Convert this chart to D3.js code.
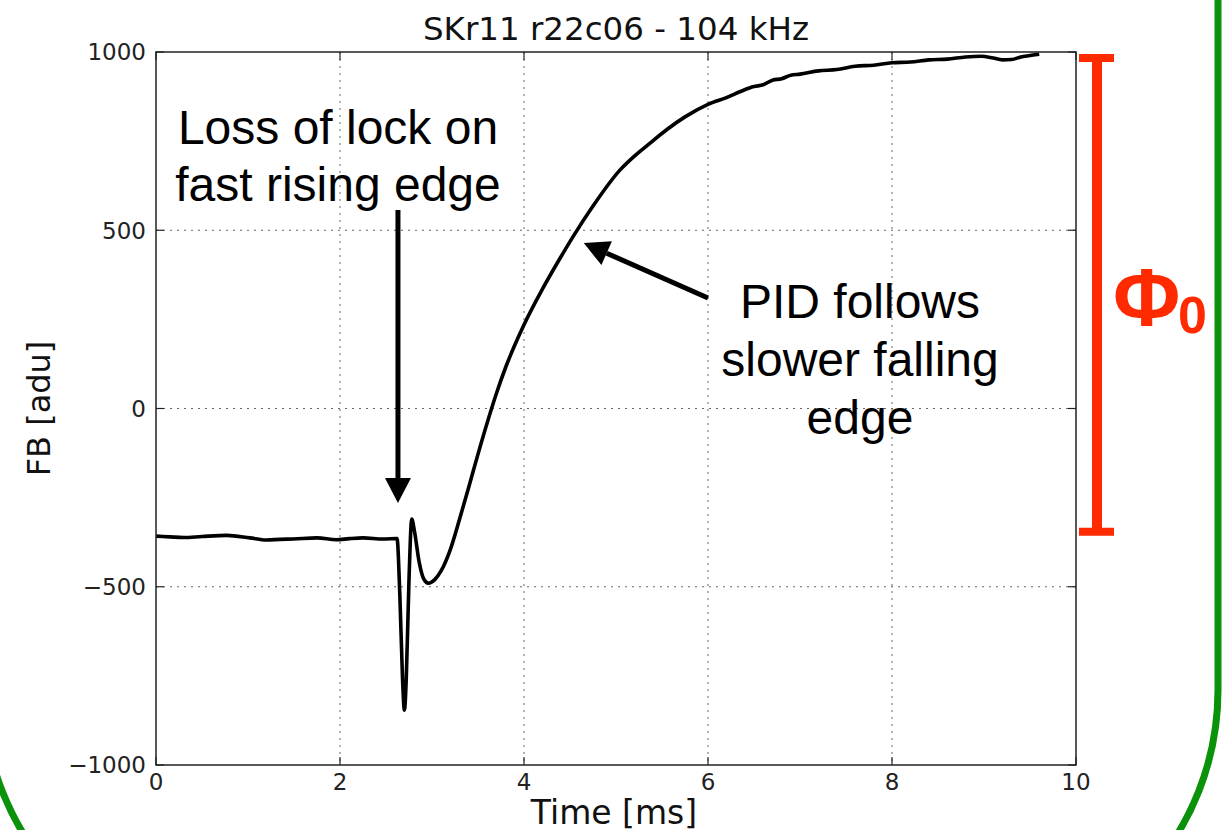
<!DOCTYPE html>
<html lang="en">
<head>
<meta charset="utf-8">
<title>SKr11 r22c06 - 104 kHz</title>
<script src="https://d3js.org/d3.v7.min.js"></script>
<style>
  body { margin: 0; background: #fff; }
  svg { display: block; }
</style>
</head>
<body>
<script>
// feedback trace: time in ms, FB in adu
var timeMs = [0, 0.15, 0.3, 0.5, 0.77, 1.02, 1.2, 1.35, 1.49, 1.75, 1.96, 2.1, 2.25, 2.47, 2.62,
  2.65, 2.68, 2.70, 2.72, 2.75, 2.78, 2.81, 2.86, 2.91, 2.96, 3.03, 3.1, 3.2, 3.3, 3.4, 3.5,
  3.6, 3.7, 3.8, 3.9, 4.0, 4.2, 4.4, 4.54, 4.75, 5.04, 5.2, 5.35, 5.55, 5.75, 6.0, 6.2, 6.36,
  6.5, 6.6, 6.7, 6.8, 6.9, 7.0, 7.2, 7.4, 7.6, 7.8, 8.0, 8.2, 8.4, 8.6, 8.8, 8.97, 9.1, 9.2,
  9.3, 9.4, 9.5, 9.6];
var fbAdu = [-358, -360, -362, -359, -356, -363, -369, -367, -366, -363, -368, -365, -363, -366, -365,
  -520, -760, -846, -760, -480, -310, -345, -430, -478, -490, -480, -455, -395, -310, -220, -128,
  -40, 42, 115, 178, 235, 335, 425, 485, 568, 668, 708, 740, 782, 818, 853, 872, 890,
  903, 908, 921, 925, 935, 938, 947, 951, 960, 963, 970, 972, 978, 980, 986, 988, 983, 978,
  979, 986, 990, 994];

var xTicks = [0, 2, 4, 6, 8, 10];
var yTicks = [-1000, -500, 0, 500, 1000];
var xGrid = [2, 4, 6, 8];
var yGrid = [-500, 0, 500];

var titleText = 'SKr11 r22c06 - 104 kHz';
var xLabel = 'Time [ms]';
var yLabel = 'FB [adu]';
var leftNote = ['Loss of lock on', 'fast rising edge'];
var rightNote = ['PID follows', 'slower falling', 'edge'];

// arrows in data units: [tailTime, tailFB, tipTime, tipFB]
var arrowLock = [2.63, 557, 2.63, -265];
var arrowPid = [6.0, 310, 4.65, 464];
// one flux quantum, drawn as the red bar on the right (adu)
var phi0Span = [983, -346];

var W = 1222, H = 830;
var plotL = 156, plotT = 52, pw = 920, ph = 713;

var svg = d3.select('body').append('svg')
  .attr('width', W)
  .attr('height', H);

var x = d3.scaleLinear().domain([0, 10]).range([plotL, plotL + pw]);
var y = d3.scaleLinear().domain([-1000, 1000]).range([plotT + ph, plotT]);

// green slide frame, only the bottom corners are visible
svg.append('rect')
  .attr('x', -17).attr('y', -400)
  .attr('width', 1235).attr('height', 1366)
  .attr('rx', 276).attr('ry', 276)
  .attr('fill', 'none')
  .attr('stroke', '#0a920a')
  .attr('stroke-width', 7);

// dotted grid
svg.selectAll('.gx').data(xGrid).enter().append('line')
  .attr('x1', d => x(d)).attr('x2', d => x(d))
  .attr('y1', plotT).attr('y2', plotT + ph)
  .attr('stroke', '#666').attr('stroke-width', 1)
  .attr('stroke-dasharray', '2,5');
svg.selectAll('.gy').data(yGrid).enter().append('line')
  .attr('x1', plotL).attr('x2', plotL + pw)
  .attr('y1', d => y(d)).attr('y2', d => y(d))
  .attr('stroke', '#666').attr('stroke-width', 1)
  .attr('stroke-dasharray', '2,5');

// ticks pointing inward on all four sides
var tk = 8;
xTicks.forEach(function(t) {
  svg.append('line').attr('x1', x(t)).attr('x2', x(t)).attr('y1', plotT + ph).attr('y2', plotT + ph - tk)
    .attr('stroke', '#222').attr('stroke-width', 1.2);
  svg.append('line').attr('x1', x(t)).attr('x2', x(t)).attr('y1', plotT).attr('y2', plotT + tk)
    .attr('stroke', '#222').attr('stroke-width', 1.2);
});
yTicks.forEach(function(v) {
  svg.append('line').attr('x1', plotL).attr('x2', plotL + tk).attr('y1', y(v)).attr('y2', y(v))
    .attr('stroke', '#222').attr('stroke-width', 1.2);
  svg.append('line').attr('x1', plotL + pw).attr('x2', plotL + pw - tk).attr('y1', y(v)).attr('y2', y(v))
    .attr('stroke', '#222').attr('stroke-width', 1.2);
});

// tick labels
svg.selectAll('.xl').data(xTicks).enter().append('text')
  .attr('x', d => x(d)).attr('y', plotT + ph + 25)
  .attr('text-anchor', 'middle')
  .style('font-family', 'DejaVu Sans').style('font-size', '23px').attr('fill', '#222')
  .text(d => d);
svg.selectAll('.yl').data(yTicks).enter().append('text')
  .attr('x', plotL - 10).attr('y', d => y(d)).attr('dy', '0.36em')
  .attr('text-anchor', 'end')
  .style('font-family', 'DejaVu Sans').style('font-size', '23px').attr('fill', '#222')
  .text(d => d < 0 ? '\u2212' + Math.abs(d) : d);

// trace
var line = d3.line()
  .x((d, i) => x(timeMs[i]))
  .y(d => y(d))
  .curve(d3.curveMonotoneX);
svg.append('path')
  .datum(fbAdu)
  .attr('d', line)
  .attr('fill', 'none')
  .attr('stroke', '#000')
  .attr('stroke-width', 3.6)
  .attr('stroke-linejoin', 'round');

// frame
svg.append('rect')
  .attr('x', plotL).attr('y', plotT).attr('width', pw).attr('height', ph)
  .attr('fill', 'none').attr('stroke', '#222').attr('stroke-width', 1.5);

// title and axis labels
svg.append('text')
  .attr('x', plotL + pw / 2).attr('y', 40)
  .attr('text-anchor', 'middle')
  .style('font-family', 'DejaVu Sans').style('font-size', '32.5px').attr('fill', '#111')
  .text(titleText);
svg.append('text')
  .attr('x', plotL + pw / 2 - 2).attr('y', 824)
  .attr('text-anchor', 'middle')
  .style('font-family', 'DejaVu Sans').style('font-size', '33px').attr('fill', '#111')
  .text(xLabel);
svg.append('text')
  .attr('transform', 'translate(50,' + y(0) + ') rotate(-90)')
  .attr('text-anchor', 'middle')
  .style('font-family', 'DejaVu Sans').style('font-size', '32px').attr('fill', '#111')
  .text(yLabel);

// annotations
function arrow(a, headLen, headW) {
  var x1 = x(a[0]), y1 = y(a[1]), x2 = x(a[2]), y2 = y(a[3]);
  var ang = Math.atan2(y2 - y1, x2 - x1);
  var bx = x2 - headLen * Math.cos(ang), by = y2 - headLen * Math.sin(ang);
  svg.append('line')
    .attr('x1', x1).attr('y1', y1).attr('x2', bx).attr('y2', by)
    .attr('stroke', '#000').attr('stroke-width', 5);
  var px = -Math.sin(ang) * headW / 2, py = Math.cos(ang) * headW / 2;
  svg.append('path')
    .attr('d', 'M' + x2 + ',' + y2 + 'L' + (bx + px) + ',' + (by + py) + 'L' + (bx - px) + ',' + (by - py) + 'Z')
    .attr('fill', '#000');
}
arrow(arrowLock, 25, 26);
arrow(arrowPid, 25, 26);

svg.selectAll('.ln').data(leftNote).enter().append('text')
  .attr('x', 338).attr('y', (d, i) => 144 + i * 57)
  .attr('text-anchor', 'middle')
  .style('font-family', 'Liberation Sans, Arial, sans-serif').style('font-size', '48px')
  .attr('fill', '#000')
  .text(d => d);
svg.selectAll('.rn').data(rightNote).enter().append('text')
  .attr('x', 860).attr('y', (d, i) => 318 + i * 58)
  .attr('text-anchor', 'middle')
  .style('font-family', 'Liberation Sans, Arial, sans-serif').style('font-size', '48px')
  .attr('fill', '#000')
  .text(d => d);

// red flux-quantum bar
var red = '#ff2a00', bx0 = 1097;
svg.append('line')
  .attr('x1', bx0).attr('x2', bx0).attr('y1', y(phi0Span[0])).attr('y2', y(phi0Span[1]))
  .attr('stroke', red).attr('stroke-width', 10);
phi0Span.forEach(function(v) {
  svg.append('line')
    .attr('x1', bx0 - 18).attr('x2', bx0 + 17).attr('y1', y(v)).attr('y2', y(v))
    .attr('stroke', red).attr('stroke-width', 8);
});
var phi = svg.append('text')
  .attr('x', 1113).attr('y', 326)
  .style('font-family', 'Liberation Sans, Arial, sans-serif')
  .style('font-weight', 'bold')
  .attr('fill', red);
phi.append('tspan').style('font-size', '82px').text('\u03A6');
phi.append('tspan').attr('x', 1178).attr('y', 333).style('font-size', '52px').text('0');
</script>
</body>
</html>
